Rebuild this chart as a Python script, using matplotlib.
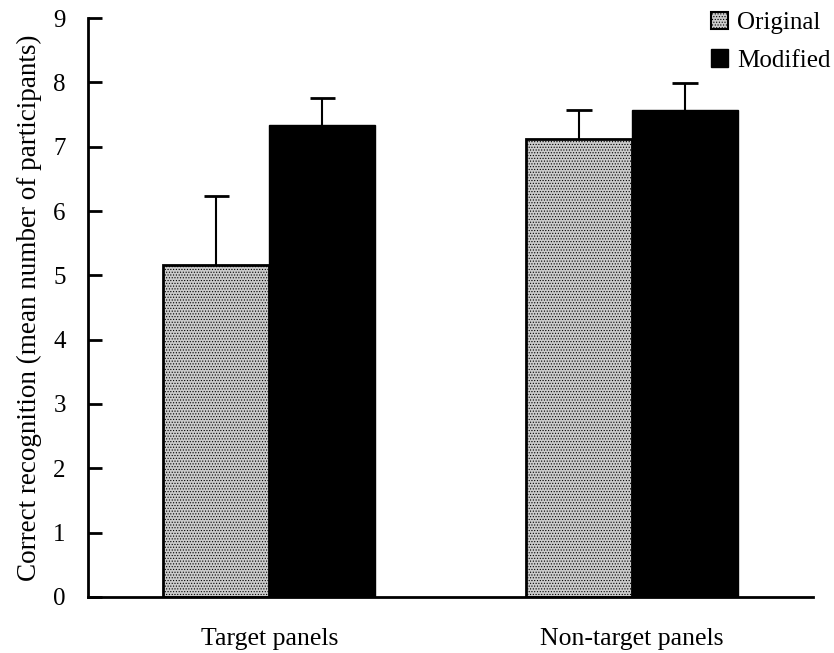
import numpy as np
import matplotlib.pyplot as plt
from matplotlib.patches import Patch

plt.rcParams['font.family'] = ['Liberation Serif', 'DejaVu Serif']
plt.rcParams['hatch.color'] = '#a8a8a8'
plt.rcParams['hatch.linewidth'] = 0.5

# data
categories = ['Target panels', 'Non-target panels']
series_names = ['Original', 'Modified']
original_means = [5.16, 7.12]
original_err = [1.08, 0.45]
modified_means = [7.34, 7.57]
modified_err = [0.42, 0.42]
y_ticks = [0, 1, 2, 3, 4, 5, 6, 7, 8, 9]

fig = plt.figure(figsize=(8.34, 6.53), dpi=100)
ax = fig.add_axes([0.1055, 0.0858, 0.8695, 0.8866])

x = np.arange(len(categories))
w = 0.2925

ax.bar(x - w / 2, original_means, w, color='#cbcbcb', edgecolor='black',
       linewidth=2, hatch='......', zorder=2)
ax.bar(x + w / 2, modified_means, w, color='black', edgecolor='black',
       linewidth=1, zorder=2)

# upper error bars only: stem from the bar top plus a cap
cap = 0.035
for xs, m, e in [(x - w / 2, original_means, original_err),
                 (x + w / 2, modified_means, modified_err)]:
    m = np.array(m)
    top = m + np.array(e)
    ax.vlines(xs, m, top, colors='black', linewidth=1.5, zorder=1)
    ax.hlines(top, xs - cap, xs + cap, colors='black', linewidth=2, zorder=1)

ax.set_xlim(-0.5, 1.5)
ax.set_ylim(0, 9)
ax.set_yticks(y_ticks)
ax.set_xticks(x)
ax.set_xticklabels(categories, fontsize=18.5)
ax.tick_params(axis='x', length=0, pad=22)
ax.tick_params(axis='y', direction='in', length=10, width=2, labelsize=18, pad=16)
ax.set_ylabel('Correct recognition (mean number of participants)', fontsize=19.5, labelpad=8)

for s in ['top', 'right']:
    ax.spines[s].set_visible(False)
for s in ['left', 'bottom']:
    ax.spines[s].set_linewidth(2)

handles = [Patch(facecolor='#cbcbcb', edgecolor='black', hatch='......', linewidth=1.5),
           Patch(facecolor='black', edgecolor='black')]
ax.legend(handles, series_names, loc='upper right', bbox_to_anchor=(1.055, 1.05),
          frameon=False, fontsize=18, handlelength=0.7, handleheight=0.7,
          handletextpad=0.35, labelspacing=0.6)

plt.savefig('out.png', dpi=100)
